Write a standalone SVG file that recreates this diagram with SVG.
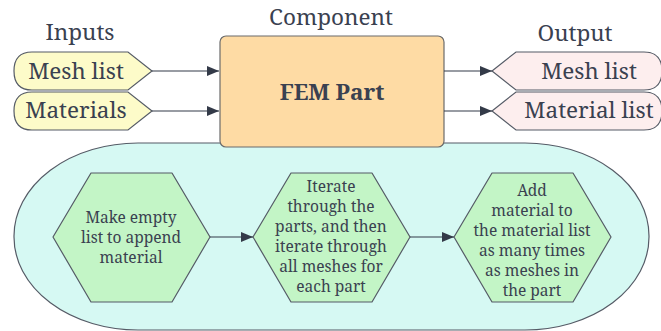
<svg xmlns="http://www.w3.org/2000/svg" width="661" height="331" viewBox="0 0 661 331">
  <defs>
    <marker id="arrow" viewBox="0 0 12 10" refX="12" refY="5" markerWidth="12" markerHeight="10" markerUnits="userSpaceOnUse" orient="auto">
      <path d="M0,0 L12,5 L0,10 Z" fill="#333a48"/>
    </marker>
  </defs>
  <style>
    text { font-family: "Noto Serif", "DejaVu Serif", serif; fill: #3a4150; text-anchor: middle; }
    .title { font-size: 22.5px; }
    .port { font-size: 22.5px; }
    .step { font-size: 15.5px; }
    .edge { stroke: #333a48; stroke-width: 1.2; fill: none; marker-end: url(#arrow); }
    .in { fill: #fdfbc9; stroke: #555b66; stroke-width: 1.2; }
    .out { fill: #fdeeee; stroke: #555b66; stroke-width: 1.2; }
    .hex { fill: #c3f5c6; stroke: #555b66; stroke-width: 1.2; stroke-linejoin: round; }
  </style>

  <rect width="661" height="331" fill="#ffffff"/>

  <!-- column headings -->
  <text class="title" x="80" y="40">Inputs</text>
  <text class="title" x="331" y="25">Component</text>
  <text class="title" x="575" y="41">Output</text>

  <!-- process container -->
  <g id="process">
    <rect x="14" y="143" width="635" height="187" rx="124" ry="93" fill="#d6f9f3" stroke="#555b66" stroke-width="1.2"/>
  </g>

  <!-- component -->
  <g id="fem-part">
    <rect x="220" y="36" width="224" height="111" rx="6" fill="#fedba4" stroke="#6b6b6b" stroke-width="1.2"/>
    <text x="332" y="100" font-size="22.5" font-weight="bold">FEM Part</text>
  </g>

  <!-- inputs -->
  <g id="in-mesh">
    <path class="in" d="M32,52 L128,52 L152,71 L128,90 L32,90 Q14,90 14,71 Q14,52 32,52 Z"/>
    <text class="port" x="76" y="79">Mesh list</text>
  </g>
  <g id="in-materials">
    <path class="in" d="M32,92 L128,92 L152,111 L128,130 L32,130 Q14,130 14,111 Q14,92 32,92 Z"/>
    <text class="port" x="76" y="118">Materials</text>
  </g>

  <!-- outputs -->
  <g id="out-mesh">
    <path class="out" d="M492,71 L516,52 L644,52 Q662,52 662,71 Q662,90 644,90 L516,90 Z"/>
    <text class="port" x="589" y="79">Mesh list</text>
  </g>
  <g id="out-materials">
    <path class="out" d="M492,111 L516,92 L644,92 Q662,92 662,111 Q662,130 644,130 L516,130 Z"/>
    <text class="port" x="589" y="118">Material list</text>
  </g>

  <!-- steps -->
  <g id="step-1">
    <path class="hex" d="M53,237 L91,173 L172,173 L210,237 L172,302 L91,302 Z"/>
    <text class="step"><tspan x="131" y="222.5">Make empty</tspan><tspan x="131" y="242.5">list to append</tspan><tspan x="131" y="262.5">material</tspan></text>
  </g>
  <g id="step-2">
    <path class="hex" d="M253,237 L291,173 L372,173 L410,237 L372,302 L291,302 Z"/>
    <text class="step"><tspan x="331" y="192">Iterate</tspan><tspan x="331" y="212">through the</tspan><tspan x="331" y="232">parts, and then</tspan><tspan x="331" y="252">iterate through</tspan><tspan x="331" y="272">all meshes for</tspan><tspan x="331" y="292">each part</tspan></text>
  </g>
  <g id="step-3">
    <path class="hex" d="M454,237 L492,173 L573,173 L611,237 L573,302 L492,302 Z"/>
    <text class="step"><tspan x="532" y="196">Add</tspan><tspan x="532" y="216">material to</tspan><tspan x="532" y="236">the material list</tspan><tspan x="532" y="256">as many times</tspan><tspan x="532" y="276">as meshes in</tspan><tspan x="532" y="296">the part</tspan></text>
  </g>

  <!-- connectors -->
  <g id="connectors">
    <line class="edge" x1="152" y1="71" x2="219" y2="71"/>
    <line class="edge" x1="152" y1="111" x2="219" y2="111"/>
    <line class="edge" x1="444" y1="71" x2="492" y2="71"/>
    <line class="edge" x1="444" y1="111" x2="492" y2="111"/>
    <line class="edge" x1="210" y1="237" x2="253" y2="237"/>
    <line class="edge" x1="410" y1="237" x2="454" y2="237"/>
  </g>
</svg>
